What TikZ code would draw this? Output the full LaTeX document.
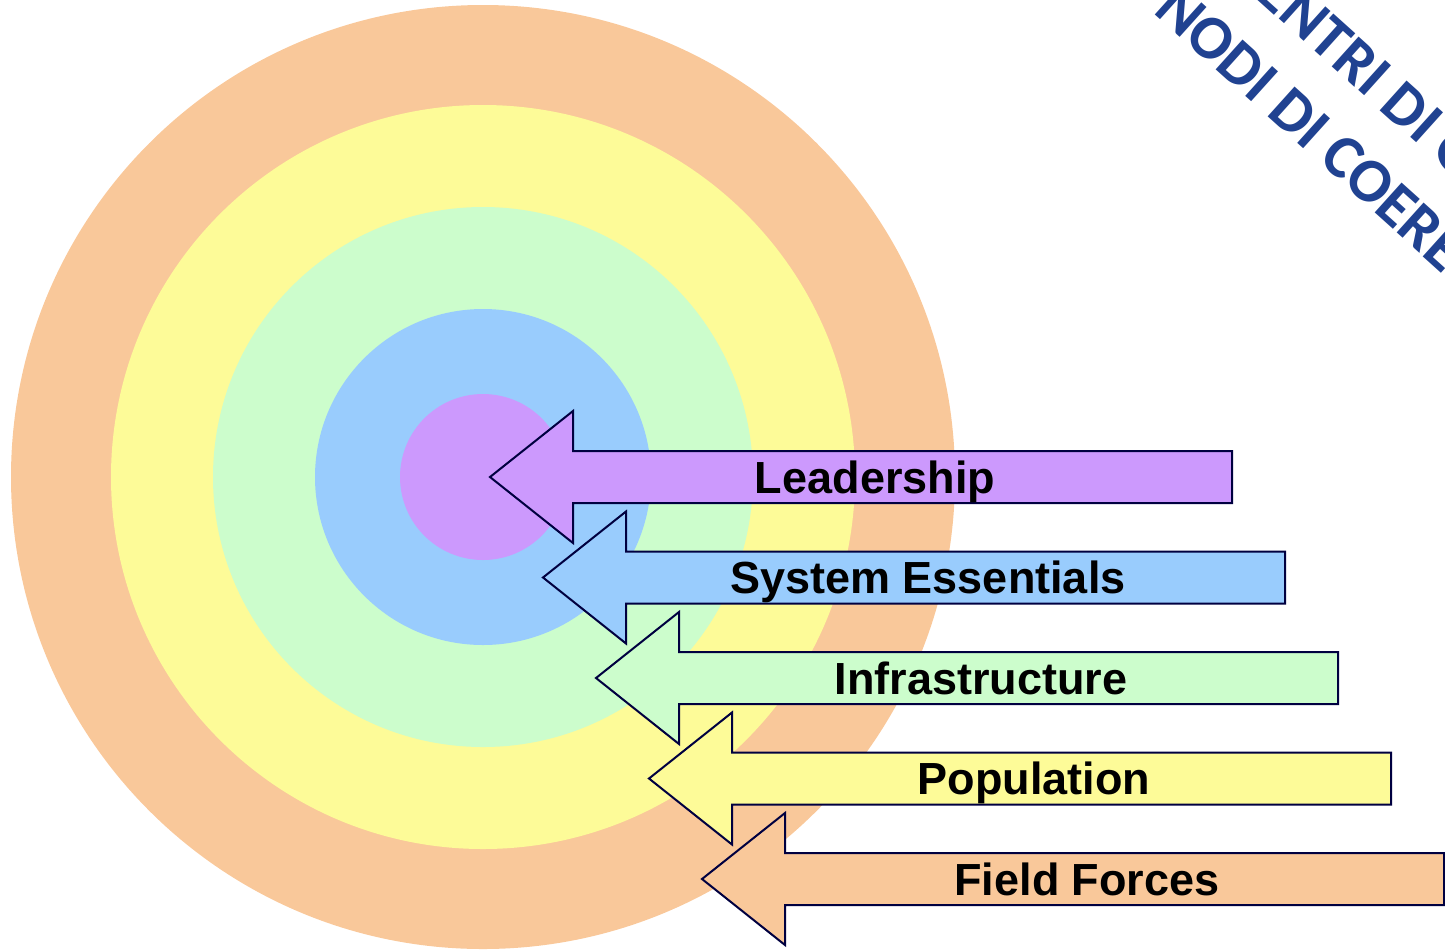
\documentclass[tikz,border=0pt]{standalone}
\usepackage{fontspec}
\setmainfont{Liberation Sans}
\newfontfamily\bannerfont{Carlito}
\usetikzlibrary{positioning}

\definecolor{ringA}{RGB}{249,200,154}% outer ring, field forces
\definecolor{ringB}{RGB}{253,251,152}% population
\definecolor{ringC}{RGB}{204,253,204}% infrastructure
\definecolor{ringD}{RGB}{153,204,253}% system essentials
\definecolor{ringE}{RGB}{204,153,253}% leadership
\definecolor{bannerblue}{RGB}{32,66,145}

\begin{document}
\begin{tikzpicture}[
x=0.5pt, y=-0.5pt,
  arr/.style = {draw=black!75!blue, line width=1pt, line join=miter},% arrow outline
  lbl/.style = {font=\fontsize{22.5}{27}\selectfont\bfseries,
                inner sep=0pt, anchor=base},
  banner/.style = {font=\bannerfont\fontsize{31}{36}\selectfont\bfseries,
                text=bannerblue, rotate=-42, anchor=base west, inner sep=0pt},
                        ]
\useasboundingbox (0,0) rectangle (1445,949);
\clip (0,0) rectangle (1445,949);
\coordinate (ctr) at (483,477);
% target rings
\foreach \r/\col in {472/ringA,372/ringB,270/ringC,168/ringD,83/ringE}% <-- radius/colour
    \fill[\col] (ctr) circle (\r);
% arrows pointing into the rings
\foreach \txt/\col [count=\i from 0] in {Leadership/ringE,System Essentials/ringD,
        Infrastructure/ringC,Population/ringB,Field Forces/ringA}
{
    \coordinate (tip-\i) at ({490+53*\i},{477+100.5*\i});
    \filldraw[arr, fill=\col] (tip-\i) -- ++(83,-66) -- ++(0,40) -- ++(659,0)
        -- ++(0,52) -- ++(-659,0) -- ++(0,40) -- cycle;
    \node[lbl] (arr-\i) at ({875+53*\i},{493+100.5*\i}) {\txt};
}
\node[banner] (cg) at (1229,-26) {CENTRI DI GRAVITÀ};
\node[banner] (nc) at (1152,12) {NODI DI COERENZA};
\end{tikzpicture}
\end{document}
